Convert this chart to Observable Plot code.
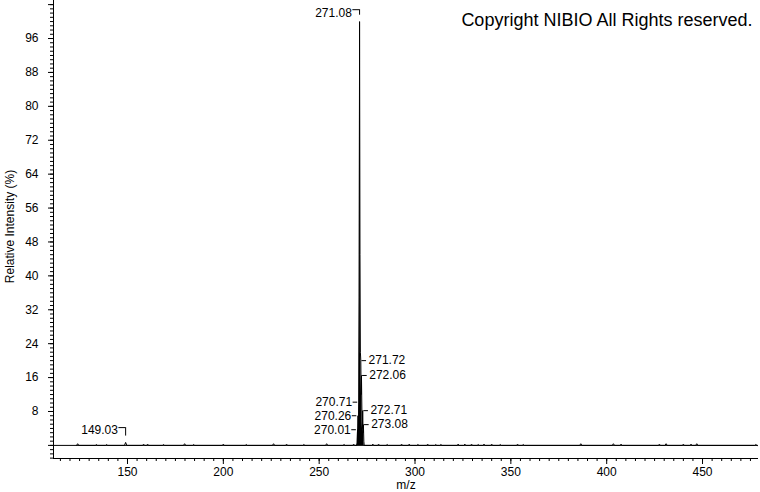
<!DOCTYPE html>
<html>
<head>
<meta charset="utf-8">
<script src="https://cdn.jsdelivr.net/npm/d3@7"></script>
<script src="https://cdn.jsdelivr.net/npm/@observablehq/plot@0.6"></script>
<style>
  body { margin: 0; background: #fff; }
  #chart svg { display: block; }
</style>
</head>
<body>
<div id="chart"></div>
<script>
// ---- axes ----
const xDomain = [111.4, 479.2];
const yDomain = [-3.09, 104.97];
const xMajorTicks = [150, 200, 250, 300, 350, 400, 450];
const yMajorTicks = [8, 16, 24, 32, 40, 48, 56, 64, 72, 80, 88, 96];

// ---- small baseline peaks (m/z, relative intensity %) ----
const noiseMz = [124.0, 133.8, 139.1, 149.03, 158.4, 160.5, 168.8, 179.8, 184.5, 200.0,
  212.0, 226.2, 233.0, 242.0, 253.9, 263.0, 268.0, 278.0, 281.0, 285.5,
  293.0, 297.0, 301.5, 306.6, 310.8, 313.5, 322.5, 326.0, 329.5, 333.0,
  336.0, 340.0, 344.5, 353.5, 356.5, 386.5, 403.5, 407.5, 427.5, 431.0,
  440.0, 444.0, 447.0, 477.8];
const noiseHeight = [0.4, 0.2, 0.2, 0.7, 0.3, 0.3, 0.2, 0.4, 0.2, 0.3,
  0.2, 0.4, 0.3, 0.2, 0.4, 0.2, 0.3, 0.3, 0.3, 0.2,
  0.3, 0.3, 0.2, 0.3, 0.2, 0.2, 0.3, 0.3, 0.3, 0.2,
  0.3, 0.3, 0.2, 0.3, 0.2, 0.4, 0.4, 0.3, 0.3, 0.4,
  0.3, 0.3, 0.4, 0.2];

// ---- molecular ion cluster profile ----
const clusterMz = [269.6, 269.85, 270.01, 270.12, 270.26, 270.45, 270.71, 270.9, 271.08,
  271.3, 271.5, 271.72, 271.9, 272.06, 272.35, 272.55, 272.71, 272.9, 273.08, 273.3, 273.5];
const clusterIntensity = [0, 0.5, 3.7, 1.5, 7.0, 3.0, 10.2, 35, 100,
  45, 22, 20.0, 12, 16.5, 6, 4, 8.2, 3, 4.9, 1, 0];

// ---- peak annotations ----
const labelMz = [271.08, 149.03, 271.72, 272.06, 270.71, 272.71, 270.26, 273.08, 270.01];
const labelText = ["271.08", "149.03", "271.72", "272.06", "270.71", "272.71", "270.26", "273.08", "270.01"];
const labelLevel = [102.8, 4.2, 20.0, 16.5, 10.2, 8.2, 7.0, 4.9, 3.7];
const labelSide = ["bracket", "bracket", "right", "right", "left", "right", "left", "right", "left"];

// ---- build tables ----
const spectrum = [];
noiseMz.forEach((m, i) => {
  spectrum.push({mz: m - 0.6, y: 0}, {mz: m, y: noiseHeight[i]}, {mz: m + 0.6, y: 0});
});
const cluster = clusterMz.map((m, i) => ({mz: m, y: clusterIntensity[i]}));
cluster.forEach(d => spectrum.push(d));
spectrum.sort((a, b) => a.mz - b.mz);

function peakHeight(m) {
  const c = cluster.find(d => Math.abs(d.mz - m) < 1e-6);
  if (c) return c.y;
  const i = noiseMz.findIndex(v => Math.abs(v - m) < 1e-6);
  return i >= 0 ? noiseHeight[i] : 0;
}
const labels = labelMz.map((m, i) => ({mz: m, text: labelText[i], level: labelLevel[i], side: labelSide[i], peak: peakHeight(m)}));
const leftL = labels.filter(d => d.side === "left");
const rightL = labels.filter(d => d.side === "right");
const brL = labels.filter(d => d.side === "bracket");

const chart = Plot.plot({
  width: 760,
  height: 492,
  marginLeft: 53,
  marginRight: 2,
  marginTop: 0,
  marginBottom: 34,
  x: {domain: xDomain},
  y: {domain: yDomain},
  style: {fontFamily: "Arial, 'Liberation Sans', sans-serif", fontSize: "12px", background: "white", color: "black"},
  marks: [
    Plot.axisX({ticks: d3.range(115, 480, 5), tickSize: 3, tickFormat: () => "", label: null}),
    Plot.axisX({ticks: xMajorTicks, tickSize: 6, tickPadding: 3, tickFormat: d => String(d), label: null, fontSize: 12}),
    Plot.axisY({ticks: d3.range(-3, 105, 1), tickSize: 3, tickFormat: () => "", label: null}),
    Plot.axisY({ticks: [0, 104], tickSize: 5, tickFormat: () => "", label: null}),
    Plot.axisY({ticks: yMajorTicks, tickSize: 5, tickPadding: 10, tickFormat: d => String(d), label: null, fontSize: 12}),
    Plot.ruleX([xDomain[0]]),
    Plot.ruleY([yDomain[0]]),
    Plot.ruleY([0], {stroke: "black"}),
    Plot.areaY(cluster, {x: "mz", y: "y", fill: "black"}),
    Plot.line(spectrum, {x: "mz", y: "y", stroke: "black", strokeWidth: 1}),
    // left-side annotations
    Plot.ruleY(leftL, {y: "level", x1: d => d.mz - 3, x2: d => d.mz - 0.6, stroke: "black"}),
    Plot.text(leftL, {x: d => d.mz - 3, y: "level", text: "text", textAnchor: "end", dx: -1, fontSize: 12}),
    // right-side annotations
    Plot.ruleY(rightL, {y: "level", x1: d => d.mz + 0.6, x2: d => d.mz + 3, stroke: "black"}),
    Plot.text(rightL, {x: d => d.mz + 3, y: "level", text: "text", textAnchor: "start", dx: 2, fontSize: 12}),
    // bracket annotations
    Plot.ruleY(brL, {y: "level", x1: d => d.mz - 3.5, x2: "mz", stroke: "black"}),
    Plot.ruleX(brL, {x: "mz", y1: "level", y2: d => d.peak + 1.5, stroke: "black"}),
    Plot.text(brL, {x: d => d.mz - 3.5, y: "level", text: "text", textAnchor: "end", dx: -1, dy: 3, fontSize: 12}),
    // titles
    Plot.text(["Copyright NIBIO All Rights reserved."], {frameAnchor: "top-right", textAnchor: "end", dx: -6, dy: 13, fontSize: 18}),
    Plot.text(["m/z"], {frameAnchor: "bottom", dy: 30, fontSize: 12}),
    Plot.text(["Relative Intensity (%)"], {frameAnchor: "left", textAnchor: "middle", dx: -43, dy: -3, rotate: -90, fontSize: 12})
  ]
});
document.getElementById("chart").appendChild(chart);
</script>
</body>
</html>
